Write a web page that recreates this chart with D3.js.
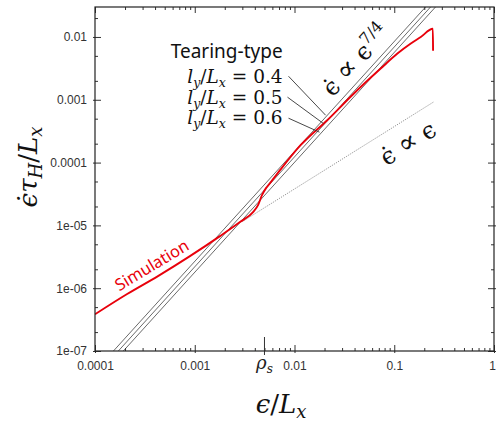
<!DOCTYPE html>
<html><head><meta charset="utf-8">
<script src="https://cdn.jsdelivr.net/npm/d3@7"></script>
<style>body{margin:0;background:#fff} svg{display:block}</style>
</head><body>
<svg id="chart" width="496" height="421"></svg>
<script>
// ---------- data ----------
const xTickValues = [1e-4, 1e-3, 1e-2, 1e-1, 1];
const xTickLabels = ["0.0001", "0.001", "0.01", "0.1", "1"];
const yTickValues = [1e-7, 1e-6, 1e-5, 1e-4, 1e-3, 1e-2];
const yTickLabels = ["1e-07", "1e-06", "1e-05", "0.0001", "0.001", "0.01"];
const rhoS = 0.005;

// simulation curve
const simEps  = [1.0e-4, 2.1e-4, 4.28e-4, 8.95e-4, 1.79e-3, 2.84e-3, 3.84e-3, 4.31e-3, 4.72e-3, 5.18e-3, 5.68e-3, 7.16e-3, 1.15e-2, 2.13e-2, 3.94e-2, 7.31e-2, 0.1076, 0.1466, 0.1845, 0.2438, 0.245];
const simRate = [3.84e-7, 8.07e-7, 1.56e-6, 3.24e-6, 6.75e-6, 1.13e-5, 1.63e-5, 2.10e-5, 3.03e-5, 3.92e-5, 4.71e-5, 7.57e-5, 1.89e-4, 4.73e-4, 1.26e-3, 3.14e-3, 5.44e-3, 7.85e-3, 1.0e-2, 1.35e-2, 6.04e-3];

// tearing-type scaling lines (epsdot ~ eps^{7/4}), endpoints
const tearingNames = ["0.4", "0.5", "0.6"];
const tearingEps  = [[1.53e-4, 0.206], [1.714e-4, 0.231], [1.923e-4, 0.259]];
const tearingRate = [[1e-7, 0.03], [1e-7, 0.03], [1e-7, 0.03]];

// linear reference line (epsdot ~ eps), endpoints
const linearEps  = [0.003, 0.25];
const linearRate = [1.15e-5, 9.3e-4];

// annotation anchors (data coords)
const leaderStartEps  = [8.71e-3, 8.51e-3, 8.71e-3];
const leaderStartRate = [2.37e-3, 1.10e-3, 5.09e-4];
const leaderEndEps    = [0.0205, 0.0195, 0.0178];
const leaderEndRate   = [5.68e-4, 4.19e-4, 3.05e-4];
const labelRightEps   = 0.0076;
const labelRate       = [1.83e-3, 8.49e-4, 4.08e-4];
const titleRate       = 4.58e-3;

// ---------- scales ----------
const svg = d3.select("#chart");
const x = d3.scaleLog().domain([1e-4, 1]).range([95, 494]);
const y = d3.scaleLog().domain([1e-7, 0.03]).range([351, 7]);
const X0 = x.range()[0], X1 = x.range()[1], Y0 = y.range()[0], Y1 = y.range()[1];

svg.append("defs").append("clipPath").attr("id", "clip")
  .append("rect").attr("x", X0).attr("y", Y1).attr("width", X1 - X0).attr("height", Y0 - Y1);

const plot = svg.append("g").attr("clip-path", "url(#clip)");

// ---------- axes ----------
const minorX = [];
[1e-4, 1e-3, 1e-2, 1e-1].forEach(d => { for (let k = 2; k <= 9; k++) minorX.push(d * k); });
const minorY = [];
[1e-7, 1e-6, 1e-5, 1e-4, 1e-3, 1e-2].forEach(d => { [2, 5].forEach(k => { if (d * k <= 0.03) minorY.push(d * k); }); });

const tickColor = "#333";
function styleAxis(g) {
  g.select(".domain").remove();
  g.selectAll(".tick line").attr("stroke", tickColor).attr("stroke-width", 1);
  g.selectAll(".tick text").attr("fill", "#333")
    .style("font-family", "'Liberation Sans', Arial, sans-serif").style("font-size", "12px");
}
// bottom
svg.append("g").attr("transform", `translate(0,${Y0})`)
  .call(d3.axisBottom(x).tickValues(xTickValues).tickFormat((d, i) => xTickLabels[i]).tickSizeInner(-6).tickSizeOuter(0).tickPadding(10))
  .call(styleAxis).call(g => g.selectAll(".tick line").attr("y1", 2))
  .call(g => g.selectAll(".tick text").filter(d => d === 1).attr("text-anchor", "end").attr("dx", 1.5));
svg.append("g").attr("transform", `translate(0,${Y0})`)
  .call(d3.axisBottom(x).tickValues(minorX).tickFormat("").tickSizeInner(-3).tickSizeOuter(0)).call(styleAxis);
// top
svg.append("g").attr("transform", `translate(0,${Y1})`)
  .call(d3.axisTop(x).tickValues(xTickValues).tickFormat("").tickSizeInner(-6).tickSizeOuter(0)).call(styleAxis);
svg.append("g").attr("transform", `translate(0,${Y1})`)
  .call(d3.axisTop(x).tickValues(minorX).tickFormat("").tickSizeInner(-3).tickSizeOuter(0)).call(styleAxis);
// left
svg.append("g").attr("transform", `translate(${X0},0)`)
  .call(d3.axisLeft(y).tickValues(yTickValues).tickFormat((d, i) => yTickLabels[i]).tickSizeInner(-6).tickSizeOuter(0).tickPadding(8))
  .call(styleAxis).call(g => g.selectAll(".tick line").attr("x1", -2));
svg.append("g").attr("transform", `translate(${X0},0)`)
  .call(d3.axisLeft(y).tickValues(minorY).tickFormat("").tickSizeInner(-3).tickSizeOuter(0)).call(styleAxis);
// right
svg.append("g").attr("transform", `translate(${X1},0)`)
  .call(d3.axisRight(y).tickValues(yTickValues).tickFormat("").tickSizeInner(-6).tickSizeOuter(0)).call(styleAxis)
  .call(g => g.selectAll(".tick line").attr("x1", 2));
svg.append("g").attr("transform", `translate(${X1},0)`)
  .call(d3.axisRight(y).tickValues(minorY).tickFormat("").tickSizeInner(-3).tickSizeOuter(0)).call(styleAxis);

// rho_s tick
svg.append("line").attr("x1", x(rhoS)).attr("x2", x(rhoS)).attr("y1", Y0 - 14).attr("y2", Y0 + 4)
  .attr("stroke", tickColor).attr("stroke-width", 1);
const rt = svg.append("text").attr("x", x(rhoS)).attr("y", Y0 + 18).attr("text-anchor", "middle")
  .style("font-family", "'DejaVu Serif', serif").style("font-size", "18px").attr("fill", "#222");
rt.append("tspan").style("font-style", "italic").text("ρ");
rt.append("tspan").style("font-style", "italic").style("font-size", "12px").attr("dy", 4).text("s");

// frame
svg.append("rect").attr("x", X0).attr("y", Y1).attr("width", X1 - X0).attr("height", Y0 - Y1)
  .attr("fill", "none").attr("stroke", "#222").attr("stroke-width", 1.2);

// ---------- marks ----------
const line = d3.line().x(d => x(d[0])).y(d => y(d[1]));
const smoothLine = d3.line().x(d => x(d[0])).y(d => y(d[1])).curve(d3.curveMonotoneX);

tearingNames.forEach((n, i) => {
  plot.append("path").datum(d3.zip(tearingEps[i], tearingRate[i]))
    .attr("d", line).attr("fill", "none").attr("stroke", "#444").attr("stroke-width", 0.8);
});

plot.append("path").datum(d3.zip(linearEps, linearRate))
  .attr("d", line).attr("fill", "none").attr("stroke", "#888").attr("stroke-width", 0.9)
  .attr("stroke-dasharray", "1.2,1.2");

plot.append("path").datum(d3.zip(simEps, simRate))
  .attr("d", smoothLine).attr("fill", "none").attr("stroke", "#e8000b").attr("stroke-width", 1.9)
  .attr("stroke-linejoin", "round");

// ---------- annotations ----------
tearingNames.forEach((n, i) => {
  svg.append("line")
    .attr("x1", x(leaderStartEps[i])).attr("y1", y(leaderStartRate[i]))
    .attr("x2", x(leaderEndEps[i])).attr("y2", y(leaderEndRate[i]))
    .attr("stroke", "#333").attr("stroke-width", 0.9);
});
const serif = "'DejaVu Serif', 'Liberation Serif', serif";
svg.append("text").attr("x", x(labelRightEps)).attr("y", y(titleRate)).attr("text-anchor", "end")
  .style("font-family", "'Noto Sans', 'Open Sans', sans-serif").style("font-size", "19px").attr("fill", "#111")
  .text("Tearing-type");
tearingNames.forEach((n, i) => {
  const t = svg.append("text").attr("x", x(labelRightEps)).attr("y", y(labelRate[i])).attr("text-anchor", "end")
    .style("font-family", serif).style("font-size", "18.5px").attr("fill", "#111");
  t.append("tspan").style("font-style", "italic").text("l");
  t.append("tspan").style("font-style", "italic").style("font-size", "12.5px").attr("dy", 4).text("y");
  t.append("tspan").attr("dy", -4).text("/");
  t.append("tspan").style("font-style", "italic").text("L");
  t.append("tspan").style("font-style", "italic").style("font-size", "12.5px").attr("dy", 4).text("x");
  t.append("tspan").attr("dy", -4).text(" = " + n);
});

function angleOf(e0, r0, e1, r1) {
  return Math.atan2(y(r1) - y(r0), x(e1) - x(e0)) * 180 / Math.PI;
}
const aTear = angleOf(tearingEps[0][0], tearingRate[0][0], tearingEps[0][1], tearingRate[0][1]);
const aLin = angleOf(linearEps[0], linearRate[0], linearEps[1], linearRate[1]);

const t74 = svg.append("text").attr("transform", `translate(${x(0.041)},${y(0.0043)}) rotate(${aTear})`)
  .attr("text-anchor", "middle").attr("dy", "0.35em")
  .style("font-family", serif).style("font-size", "24px").attr("fill", "#111");
t74.append("tspan").text("ϵ\u0307 ");
t74.append("tspan").style("font-size", "28px").text("∝");
t74.append("tspan").text(" ϵ");
t74.append("tspan").style("font-size", "16px").attr("dy", -10).text("7/4");

const t1 = svg.append("text").attr("transform", `translate(${x(0.137)},${y(2.04e-4)}) rotate(${aLin})`)
  .attr("text-anchor", "middle").attr("dy", "0.35em")
  .style("font-family", serif).style("font-size", "24px").attr("fill", "#111");
t1.append("tspan").text("ϵ\u0307 ");
t1.append("tspan").style("font-size", "28px").text("∝");
t1.append("tspan").text(" ϵ");

svg.append("text").attr("transform", `translate(${x(3.71e-4)},${y(2.33e-6)}) rotate(-31)`)
  .attr("text-anchor", "middle").attr("dy", "0.35em")
  .style("font-family", "'Noto Sans', 'Open Sans', sans-serif").style("font-size", "16.5px").attr("fill", "#e8000b")
  .text("Simulation");

// axis titles
const xl = svg.append("text").attr("x", 281).attr("y", 413).attr("text-anchor", "middle")
  .style("font-family", serif).style("font-size", "26px").attr("fill", "#111");
xl.append("tspan").style("font-style", "italic").text("ϵ");
xl.append("tspan").text("/");
xl.append("tspan").style("font-style", "italic").text("L");
xl.append("tspan").style("font-style", "italic").style("font-size", "18px").attr("dy", 5).text("x");

const yl = svg.append("text").attr("transform", "translate(37,167) rotate(-90)").attr("text-anchor", "middle")
  .style("font-family", serif).style("font-size", "26px").attr("fill", "#111");
yl.append("tspan").style("font-style", "italic").text("ϵ\u0307τ");
yl.append("tspan").style("font-style", "italic").style("font-size", "18px").attr("dy", 5).text("H");
yl.append("tspan").attr("dy", -5).text("/");
yl.append("tspan").style("font-style", "italic").text("L");
yl.append("tspan").style("font-style", "italic").style("font-size", "18px").attr("dy", 5).text("x");
</script>
</body></html>
